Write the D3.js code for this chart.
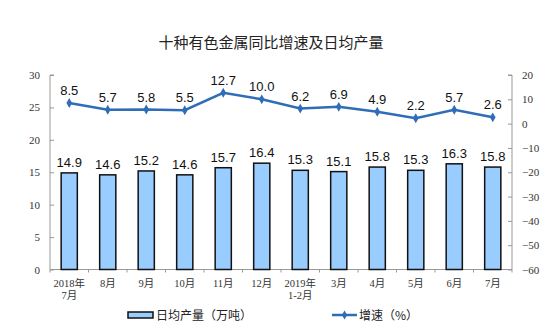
<!DOCTYPE html>
<html><head><meta charset="utf-8">
<script src="https://cdn.jsdelivr.net/npm/d3@7"></script>
<style>body{margin:0;background:#fff}svg{display:block}</style>
</head><body>
<svg id="c" width="550" height="334"></svg>
<script>
const categories = [["2018年","7月"],["8月"],["9月"],["10月"],["11月"],["12月"],["2019年","1-2月"],["3月"],["4月"],["5月"],["6月"],["7月"]];
const output = [14.9,14.6,15.2,14.6,15.7,16.4,15.3,15.1,15.8,15.3,16.3,15.8];
const growth = [8.5,5.7,5.8,5.5,12.7,10.0,6.2,6.9,4.9,2.2,5.7,2.6];
const leftTicks = [0,5,10,15,20,25,30];
const rightTicks = [-60,-50,-40,-30,-20,-10,0,10,20];
const title = "十种有色金属同比增速及日均产量";
const legendLabels = ["日均产量（万吨）","增速（%）"];

const svg = d3.select("#c");
const L = 50, R = 512, T = 75, B = 269.5;
const x = d3.scaleBand().domain(d3.range(categories.length)).range([L, R]).paddingInner(0.58).paddingOuter(0.29);
const yL = d3.scaleLinear().domain([0,30]).range([B, T]);
const yR = d3.scaleLinear().domain([-60,20]).range([B, T]);
const axisColor = "#999";
const sansNum = "Arial, 'Liberation Sans', sans-serif";
const serif = "'Times New Roman','Liberation Serif', serif";
const serifCjk = "'Liberation Serif','Noto Sans CJK SC', serif";
const cjk = "'Noto Sans CJK SC', sans-serif";
const lineColor = "#2F6DB8";

svg.append("text").attr("x", 271).attr("y", 48).attr("text-anchor","middle")
  .attr("font-family", cjk).attr("font-size", 15).attr("fill","#222").text(title);

// left axis
const gl = svg.append("g").attr("transform",`translate(${L},0)`)
  .call(d3.axisRight(yL).tickValues(leftTicks).tickSize(4).tickFormat(d3.format("d")));
gl.select(".domain").attr("stroke", axisColor).attr("d", `M4,${T}H0V${B}H4`);
gl.selectAll(".tick line").attr("stroke", axisColor);
gl.selectAll(".tick text").attr("x", -10).attr("text-anchor","end")
  .attr("font-family", serif).attr("font-size", 11).attr("fill","#333");

// right axis
const gr = svg.append("g").attr("transform",`translate(${R},0)`)
  .call(d3.axisLeft(yR).tickValues(rightTicks).tickSize(4).tickFormat(d3.format("d")));
gr.select(".domain").attr("stroke", axisColor).attr("d", `M-4,${T}H0V${B}H-4`);
gr.selectAll(".tick line").attr("stroke", axisColor);
gr.selectAll(".tick text").attr("x", 10).attr("text-anchor","start")
  .attr("font-family", serif).attr("font-size", 11).attr("fill","#333");

// bottom axis
svg.append("line").attr("x1", L).attr("x2", R).attr("y1", B).attr("y2", B).attr("stroke", axisColor);
const step = x.step();
svg.selectAll(".xt").data(d3.range(categories.length + 1)).join("line")
  .attr("x1", i => L + i * step).attr("x2", i => L + i * step)
  .attr("y1", B).attr("y2", B + 3).attr("stroke", axisColor);

categories.forEach((d, i) => {
  d.forEach((s, k) => {
    svg.append("text").attr("x", x(i) + x.bandwidth()/2).attr("y", 287 + k * 12)
      .attr("text-anchor","middle").attr("font-family", serifCjk).attr("font-size", 10.5).attr("fill","#333")
      .text(s);
  });
});

// bars
svg.selectAll(".bar").data(output).join("rect")
  .attr("x", (d,i) => x(i)).attr("width", x.bandwidth())
  .attr("y", d => yL(d)).attr("height", d => B - yL(d))
  .attr("fill", "#99CCFF").attr("stroke", "#111").attr("stroke-width", 1.5);
svg.selectAll(".bl").data(output).join("text")
  .attr("x", (d,i) => x(i) + x.bandwidth()/2).attr("y", d => yL(d) - 6)
  .attr("text-anchor","middle").attr("font-family", sansNum).attr("font-size", 13).attr("fill","#111")
  .text(d => d.toFixed(1));

// line
const cx = i => x(i) + x.bandwidth()/2;
svg.append("path").datum(growth)
  .attr("d", d3.line().x((d,i) => cx(i)).y(d => yR(d)))
  .attr("fill","none").attr("stroke", lineColor).attr("stroke-width", 2.5);
svg.selectAll(".pt").data(growth).join("path")
  .attr("transform", (d,i) => `translate(${cx(i)},${yR(d)})`)
  .attr("d", d3.symbol(d3.symbolDiamond, 28)).attr("fill", lineColor);
svg.selectAll(".ll").data(growth).join("text")
  .attr("x", (d,i) => cx(i)).attr("y", d => yR(d) - 8)
  .attr("text-anchor","middle").attr("font-family", sansNum).attr("font-size", 13).attr("fill","#111")
  .text(d => d.toFixed(1));

// legend
svg.append("rect").attr("x", 128).attr("y", 312).attr("width", 25).attr("height", 6)
  .attr("fill", "#99CCFF").attr("stroke", "#111").attr("stroke-width", 1.5);
svg.append("text").attr("x", 156).attr("y", 320).attr("font-family", cjk).attr("font-size", 12)
  .attr("fill","#222").text(legendLabels[0]);
svg.append("line").attr("x1", 332).attr("x2", 357).attr("y1", 315).attr("y2", 315)
  .attr("stroke", lineColor).attr("stroke-width", 2.5);
svg.append("path").attr("transform","translate(344.5,315)").attr("d", d3.symbol(d3.symbolDiamond, 24)).attr("fill", lineColor);
svg.append("text").attr("x", 359).attr("y", 320).attr("font-family", cjk).attr("font-size", 12)
  .attr("fill","#222").text(legendLabels[1]);
</script>
</body></html>
